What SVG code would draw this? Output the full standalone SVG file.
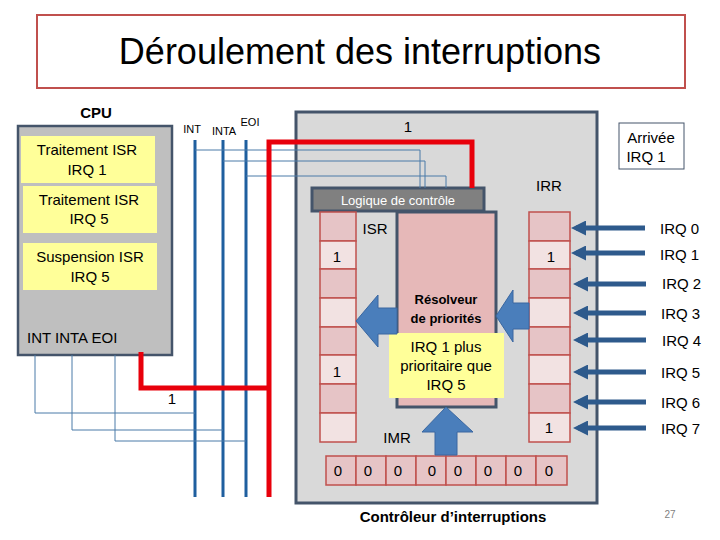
<svg xmlns="http://www.w3.org/2000/svg" width="720" height="540" viewBox="0 0 720 540">
<style>
text{font-family:"Liberation Sans",Arial,sans-serif;fill:#000}
.c{text-anchor:middle}
.yb{fill:#ffff99}
.cd{fill:#e6c4c6;stroke:#c0504d;stroke-width:1.5}
.cl{fill:#f2e2e2;stroke:#c0504d;stroke-width:1.5}
.bus{stroke:#1f5f9f;stroke-width:3}
.thin{stroke:#4a7aa8;stroke-width:1;fill:none}
.red{stroke:#e8000b;stroke-width:5;fill:none}
.fat{fill:#4a7ebb;stroke:#3a67a0;stroke-width:1}
.irq{stroke:#2e5a8c;stroke-width:5}
</style>
<defs>
<marker id="ah" markerWidth="3" markerHeight="3" refX="2" refY="1.5" orient="auto" markerUnits="strokeWidth"><path d="M0,0L3,1.5L0,3z" fill="#2e5a8c"/></marker>
</defs>
<rect width="720" height="540" fill="#fff"/>
<g id="title"><rect x="37" y="15" width="648" height="73" fill="#fff" stroke="#c0504d" stroke-width="2"/><text x="360" y="64" class="c" font-size="36" font-family="Open Sans,sans-serif">Déroulement des interruptions</text></g>
<g id="cpu">
<text x="96" y="118" class="c" font-size="15" font-weight="bold">CPU</text>
<rect x="18" y="126" width="154" height="229" fill="#bfbfbf" stroke="#44546a" stroke-width="2.5"/>
<rect x="21" y="136" width="134" height="47" class="yb"/><text x="87" y="155" class="c" font-size="15">Traitement ISR</text><text x="87" y="175" class="c" font-size="15">IRQ 1</text>
<rect x="23" y="186" width="134" height="47" class="yb"/><text x="89" y="205" class="c" font-size="15">Traitement ISR</text><text x="89" y="224" class="c" font-size="15">IRQ 5</text>
<rect x="23" y="243" width="134" height="47" class="yb"/><text x="90" y="262" class="c" font-size="15">Suspension  ISR</text><text x="90" y="282" class="c" font-size="15">IRQ 5</text>
<text x="27" y="343" font-size="15">INT INTA  EOI</text>
</g>
<g id="controller">
<rect x="296" y="112" width="301" height="391" fill="#d9d9d9" stroke="#44546a" stroke-width="3"/>
<text x="408" y="132" class="c" font-size="15">1</text>
<text x="549" y="191" class="c" font-size="15">IRR</text>
<text x="375" y="234" class="c" font-size="15">ISR</text>
<text x="397" y="443" class="c" font-size="15">IMR</text>
<rect x="312" y="188" width="172" height="23" fill="#808080" stroke="#44546a" stroke-width="3"/>
<text x="398" y="205" class="c" font-size="13" style="fill:#fff" font-family="Open Sans,sans-serif">Logique de contrôle</text>
<g id="isr">
<rect x="320" y="212" width="36" height="29" class="cd"/><rect x="320" y="241" width="36" height="28" class="cl"/><rect x="320" y="269" width="36" height="29" class="cd"/><rect x="320" y="298" width="36" height="29" class="cl"/><rect x="320" y="327" width="36" height="28" class="cd"/><rect x="320" y="355" width="36" height="29" class="cl"/><rect x="320" y="384" width="36" height="29" class="cd"/><rect x="320" y="413" width="36" height="29" class="cl"/>
<text x="337" y="262" class="c" font-size="15">1</text><text x="337" y="377" class="c" font-size="15">1</text>
</g>
<g id="irr">
<rect x="529" y="212" width="41" height="29" class="cd"/><rect x="529" y="241" width="41" height="28" class="cl"/><rect x="529" y="269" width="41" height="29" class="cd"/><rect x="529" y="298" width="41" height="29" class="cl"/><rect x="529" y="327" width="41" height="28" class="cd"/><rect x="529" y="355" width="41" height="29" class="cl"/><rect x="529" y="384" width="41" height="29" class="cd"/><rect x="529" y="413" width="41" height="29" class="cl"/>
<text x="551" y="262" class="c" font-size="15">1</text><text x="549" y="433" class="c" font-size="15">1</text>
</g>
<g id="imr">
<rect x="326" y="456" width="30" height="29" class="cd"/><rect x="356" y="456" width="30" height="29" class="cd"/><rect x="386" y="456" width="30" height="29" class="cd"/><rect x="416" y="456" width="30" height="29" class="cd"/><rect x="446" y="456" width="30" height="29" class="cd"/><rect x="476" y="456" width="30" height="29" class="cd"/><rect x="506" y="456" width="30" height="29" class="cd"/><rect x="536" y="456" width="31" height="29" class="cd"/>
<text x="338" y="476" class="c" font-size="15">0</text><text x="368" y="476" class="c" font-size="15">0</text><text x="398" y="476" class="c" font-size="15">0</text><text x="432" y="476" class="c" font-size="15">0</text><text x="458" y="476" class="c" font-size="15">0</text><text x="488" y="476" class="c" font-size="15">0</text><text x="518" y="476" class="c" font-size="15">0</text><text x="549" y="476" class="c" font-size="15">0</text>
</g>
<g id="resolver">
<rect x="397" y="212" width="99" height="195" fill="#e6b8b8" stroke="#44546a" stroke-width="3"/>
<text x="446" y="304" class="c" font-size="13" font-weight="bold" font-family="Open Sans,sans-serif">Résolveur</text>
<text x="446" y="323" class="c" font-size="13" font-weight="bold" font-family="Open Sans,sans-serif">de priorités</text>
<rect x="389" y="333" width="115" height="65" class="yb"/>
<text x="446" y="352" class="c" font-size="15">IRQ 1 plus</text><text x="446" y="371" class="c" font-size="15">prioritaire que</text><text x="446" y="390" class="c" font-size="15">IRQ 5</text>
</g>
<path class="fat" d="M356,321L378,295L378,308L397,308L397,334L378,334L378,347Z"/>
<path class="fat" d="M496,316L513,290L513,303L529,303L529,329L513,329L513,342Z"/>
<path class="fat" d="M446,407L473,432L457,432L457,455L435,455L435,432L422,432Z"/>
</g>
<g id="arrivee"><rect x="619" y="123" width="65" height="46" fill="#fff" stroke="#44546a" stroke-width="1"/><text x="651" y="143" class="c" font-size="15">Arrivée</text><text x="646" y="162" class="c" font-size="15">IRQ 1</text></g>
<g id="connectors">
<line class="irq" x1="645" y1="228" x2="576" y2="228" marker-end="url(#ah)"/>
<line class="irq" x1="645" y1="253" x2="576" y2="253" marker-end="url(#ah)"/>
<line class="irq" x1="646" y1="284" x2="578" y2="284" marker-end="url(#ah)"/>
<line class="irq" x1="646" y1="313" x2="578" y2="313" marker-end="url(#ah)"/>
<line class="irq" x1="646" y1="340" x2="578" y2="340" marker-end="url(#ah)"/>
<line class="irq" x1="646" y1="372" x2="578" y2="372" marker-end="url(#ah)"/>
<line class="irq" x1="646" y1="402" x2="578" y2="402" marker-end="url(#ah)"/>
<line class="irq" x1="646" y1="428" x2="578" y2="428" marker-end="url(#ah)"/>
<line class="bus" x1="195" y1="140" x2="195" y2="497"/>
<line class="bus" x1="223" y1="140" x2="223" y2="497"/>
<line class="bus" x1="246" y1="140" x2="246" y2="497"/>
<path class="thin" d="M195,150H420V188M223,161H425V188M246,176H446V188"/>
<path class="thin" d="M35,355V413H195M72,355V430H223M115,355V441H246"/>
<path class="red" d="M269,497V142H472V188"/>
<path class="red" d="M141,352V388H269"/>
</g>
<g id="labels">
<text x="192" y="133" class="c" font-size="11">INT</text><text x="224" y="135" class="c" font-size="11">INTA</text><text x="250" y="126" class="c" font-size="11">EOI</text>
<text x="172" y="404" class="c" font-size="15">1</text>
<text x="660" y="234" font-size="15">IRQ 0</text><text x="660" y="260" font-size="15">IRQ 1</text><text x="662" y="289" font-size="15">IRQ 2</text><text x="661" y="319" font-size="15">IRQ 3</text><text x="662" y="346" font-size="15">IRQ 4</text><text x="661" y="378" font-size="15">IRQ 5</text><text x="661" y="408" font-size="15">IRQ 6</text><text x="661" y="434" font-size="15">IRQ 7</text>
<text x="453" y="522" class="c" font-size="15" font-weight="bold">Contrôleur d’interruptions</text>
<text x="670" y="518" class="c" font-size="10" style="fill:#7f7f7f">27</text>
</g>
</svg>
